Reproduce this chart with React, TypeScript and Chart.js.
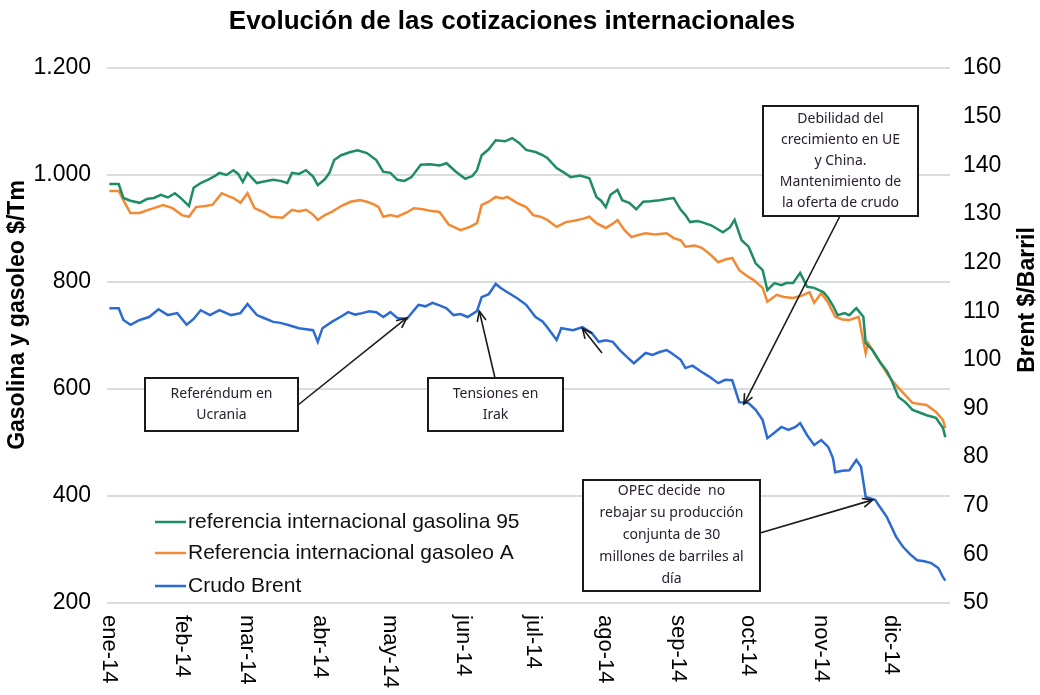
import React, { useEffect, useRef } from "react";
import { Chart, registerables } from "chart.js";

Chart.register(...registerables);

// ---- DATA (x = day of 2014, 0 = 1 Jan) ----
const monthLabels = ["ene-14", "feb-14", "mar-14", "abr-14", "may-14", "jun-14", "jul-14", "ago-14", "sep-14", "oct-14", "nov-14", "dic-14"];
const monthStartDays = [0, 31, 59, 90, 120, 151, 181, 212, 243, 273, 304, 334];

const leftTicks = [200, 400, 600, 800, 1000, 1200];
const rightTicks = [50, 60, 70, 80, 90, 100, 110, 120, 130, 140, 150, 160];

const seriesLabels = [
  "referencia internacional gasolina 95",
  "Referencia internacional gasoleo A",
  "Crudo Brent",
];

const gasolinaDays = [1, 5, 7, 10, 14, 17, 20, 23, 26, 29, 32, 35, 37, 40, 43, 46, 48, 51, 54, 56, 58, 60, 62, 64, 67, 71, 74, 77, 79, 82, 85, 88, 90, 93, 95, 97, 100, 104, 107, 111, 115, 118, 121, 124, 127, 130, 134, 138, 142, 145, 149, 153, 156, 158, 160, 163, 166, 170, 173, 176, 179, 183, 186, 188, 192, 195, 198, 202, 206, 209, 211, 213, 215, 218, 220, 223, 226, 229, 232, 236, 239, 242, 245, 247, 249, 252, 254, 258, 263, 266, 268, 271, 274, 277, 280, 282, 285, 288, 290, 293, 296, 299, 302, 304, 306, 308, 310, 312, 315, 317, 320, 323, 324, 327, 330, 333, 335, 338, 341, 344, 347, 350, 354, 357, 358];
const gasolinaValues = [983, 983, 957, 952, 948, 955, 957, 963, 958, 966, 955, 942, 976, 985, 991, 998, 1004, 1000, 1009, 1002, 987, 1004, 994, 985, 988, 991, 989, 985, 1004, 1002, 1009, 997, 981, 992, 1004, 1028, 1037, 1043, 1046, 1041, 1028, 1006, 1004, 991, 989, 996, 1019, 1020, 1018, 1022, 1006, 993, 998, 1009, 1037, 1048, 1065, 1063, 1069, 1060, 1047, 1043, 1037, 1032, 1013, 1005, 996, 999, 994, 959, 952, 940, 963, 972, 953, 948, 936, 950, 951, 953, 955, 957, 935, 925, 912, 914, 912, 906, 893, 902, 916, 878, 866, 835, 822, 785, 798, 794, 798, 798, 817, 791, 789, 785, 781, 770, 756, 738, 742, 738, 751, 735, 686, 672, 651, 634, 617, 585, 575, 561, 556, 551, 546, 527, 510];

const gasoleoDays = [1, 5, 7, 10, 14, 17, 20, 24, 28, 32, 35, 38, 42, 45, 49, 52, 54, 57, 60, 63, 67, 70, 75, 79, 82, 85, 88, 90, 93, 96, 100, 104, 108, 111, 114, 116, 118, 121, 124, 128, 131, 135, 138, 142, 146, 151, 155, 158, 160, 163, 166, 169, 171, 175, 179, 182, 185, 188, 192, 196, 200, 203, 206, 209, 213, 216, 218, 221, 224, 227, 230, 234, 239, 242, 245, 247, 251, 254, 258, 261, 264, 267, 270, 273, 276, 280, 282, 286, 289, 293, 297, 300, 302, 305, 308, 311, 314, 317, 321, 324, 325, 328, 330, 333, 335, 338, 341, 344, 347, 350, 354, 357, 358];
const gasoleoValues = [970, 970, 953, 929, 929, 934, 938, 944, 938, 925, 922, 940, 942, 944, 966, 960, 957, 948, 966, 938, 930, 922, 920, 935, 932, 935, 926, 916, 925, 931, 942, 950, 953, 950, 945, 940, 922, 925, 922, 930, 938, 936, 933, 931, 907, 897, 903, 910, 944, 950, 959, 956, 959, 948, 940, 925, 922, 916, 903, 912, 915, 918, 922, 910, 901, 909, 916, 897, 884, 888, 891, 889, 891, 882, 878, 866, 868, 864, 850, 837, 842, 845, 822, 812, 804, 789, 763, 776, 772, 770, 775, 781, 761, 779, 761, 735, 730, 729, 735, 667, 686, 665, 651, 630, 617, 602, 588, 574, 572, 570, 557, 542, 527];

const brentDays = [1, 5, 7, 10, 14, 18, 22, 26, 30, 34, 37, 40, 44, 48, 53, 57, 60, 64, 67, 71, 74, 77, 82, 88, 90, 92, 96, 100, 103, 106, 109, 112, 115, 118, 121, 124, 128, 133, 136, 139, 142, 145, 148, 151, 154, 158, 160, 163, 166, 168, 171, 175, 179, 183, 186, 188, 192, 194, 199, 203, 207, 210, 213, 216, 219, 222, 225, 230, 233, 236, 239, 241, 245, 247, 250, 254, 257, 261, 264, 267, 270, 274, 277, 280, 282, 285, 288, 291, 294, 296, 299, 302, 305, 308, 310, 311, 314, 317, 320, 322, 324, 328, 330, 333, 337, 340, 343, 346, 349, 352, 355, 357, 358];
const brentValues = [110.6, 110.6, 108.2, 107.2, 108.2, 108.8, 110.4, 109.2, 109.6, 107.2, 108.4, 110.2, 109.2, 110.2, 109.2, 109.6, 111.5, 109.2, 108.6, 107.8, 107.6, 107.2, 106.5, 106.1, 103.7, 106.5, 107.8, 108.9, 109.8, 109.3, 109.6, 110.0, 109.8, 108.8, 109.8, 108.6, 108.4, 111.3, 111.0, 111.7, 111.2, 110.6, 109.2, 109.4, 108.8, 110.0, 112.9, 113.5, 115.6, 114.8, 113.9, 112.7, 111.3, 108.8, 107.9, 106.7, 104.1, 106.5, 106.1, 106.7, 105.5, 103.7, 104.0, 103.7, 102.0, 100.6, 99.3, 101.4, 101.0, 101.6, 102.0, 101.4, 100.0, 98.3, 98.8, 97.5, 96.6, 95.2, 95.9, 95.8, 91.3, 91.1, 89.7, 87.6, 83.9, 85.0, 86.2, 85.6, 86.2, 87.0, 84.5, 82.5, 83.5, 82.1, 79.8, 76.9, 77.2, 77.3, 79.4, 78.0, 71.8, 71.2, 69.8, 67.7, 63.6, 61.5, 60.0, 58.8, 58.6, 58.2, 57.2, 55.3, 54.6];

const chartTitle = "Evolución de las cotizaciones internacionales";
const leftAxisTitle = "Gasolina y gasoleo $/Tm";
const rightAxisTitle = "Brent $/Barril";

// annotation texts and the Brent points (day, $/barril) their arrows point to
const noteReferendum = ["Referéndum en", "Ucrania"];
const noteIrak = ["Tensiones en", "Irak"];
const noteDebilidad = ["Debilidad del", "crecimiento en UE", "y China.", "Mantenimiento de", "la oferta de crudo"];
const noteOpec = ["OPEC decide  no", "rebajar su producción", "conjunta de 30", "millones de barriles al", "día"];
const arrowTargetDays = [128, 159, 203, 272, 327];
const arrowTargetBrent = [108.6, 110.0, 106.5, 90.9, 71.2];

const COLORS = ["#1e8c64", "#f38a33", "#2c6bd3"];
const FONT = '"Liberation Sans", Arial, sans-serif';
const NOTE_FONT = '"Noto Sans", "Liberation Sans", sans-serif';

function arrow(ctx: CanvasRenderingContext2D, x1: number, y1: number, x2: number, y2: number) {
  ctx.beginPath();
  ctx.moveTo(x1, y1);
  ctx.lineTo(x2, y2);
  ctx.stroke();
  const a = Math.atan2(y2 - y1, x2 - x1);
  const L = 11;
  const s = 0.42;
  ctx.beginPath();
  ctx.moveTo(x2 - L * Math.cos(a - s), y2 - L * Math.sin(a - s));
  ctx.lineTo(x2, y2);
  ctx.lineTo(x2 - L * Math.cos(a + s), y2 - L * Math.sin(a + s));
  ctx.stroke();
}

function noteBox(ctx: CanvasRenderingContext2D, x: number, y: number, w: number, h: number, lines: string[], lineH: number) {
  ctx.fillStyle = "#ffffff";
  ctx.fillRect(x, y, w, h);
  ctx.strokeStyle = "#1a1a1a";
  ctx.lineWidth = 2;
  ctx.strokeRect(x, y, w, h);
  ctx.fillStyle = "#2a2030";
  ctx.font = `14px ${NOTE_FONT}`;
  ctx.textAlign = "center";
  ctx.textBaseline = "middle";
  const total = lineH * lines.length;
  const top = y + (h - total) / 2 + lineH / 2;
  lines.forEach((t, i) => ctx.fillText(t, x + w / 2, top + i * lineH));
}

const overlayPlugin = {
  id: "overlay",
  afterDraw(chart: any) {
    const ctx: CanvasRenderingContext2D = chart.ctx;
    const xs = chart.scales.x;
    const yr = chart.scales.yR;
    const area = chart.chartArea;
    ctx.save();

    // title
    ctx.fillStyle = "#000";
    ctx.font = `bold 26px ${FONT}`;
    ctx.textAlign = "center";
    ctx.textBaseline = "middle";
    ctx.fillText(chartTitle, 512, 22);

    // axis titles (both read bottom to top)
    ctx.font = `bold 23px ${FONT}`;
    ctx.save();
    ctx.translate(18, 315);
    ctx.rotate(-Math.PI / 2);
    ctx.fillText(leftAxisTitle, 0, 0);
    ctx.restore();
    ctx.save();
    ctx.translate(1028, 300);
    ctx.rotate(-Math.PI / 2);
    ctx.fillText(rightAxisTitle, 0, 0);
    ctx.restore();

    // month labels, rotated clockwise
    ctx.font = `22px ${FONT}`;
    ctx.textAlign = "left";
    ctx.textBaseline = "middle";
    monthStartDays.forEach((d, i) => {
      const px = xs.getPixelForValue(d);
      ctx.save();
      ctx.translate(px + 2, area.bottom + 12);
      ctx.rotate(Math.PI / 2);
      ctx.fillText(monthLabels[i], 0, 0);
      ctx.restore();
    });

    // legend inside plot
    const rowsY = [522, 553, 586];
    ctx.font = `21px ${FONT}`;
    seriesLabels.forEach((lab, i) => {
      ctx.strokeStyle = COLORS[i];
      ctx.lineWidth = 2.5;
      ctx.beginPath();
      ctx.moveTo(155, rowsY[i]);
      ctx.lineTo(186, rowsY[i]);
      ctx.stroke();
      ctx.fillStyle = "#111";
      ctx.fillText(lab, 188, rowsY[i]);
    });

    // annotation boxes
    noteBox(ctx, 145, 378, 153, 53, noteReferendum, 21);
    noteBox(ctx, 428, 378, 135, 53, noteIrak, 21);
    noteBox(ctx, 763, 106, 155, 110, noteDebilidad, 21);
    noteBox(ctx, 583, 480, 177, 111, noteOpec, 22);

    // arrows
    ctx.strokeStyle = "#1a1a1a";
    ctx.lineWidth = 1.6;
    const tip = (i: number) => [xs.getPixelForValue(arrowTargetDays[i]), yr.getPixelForValue(arrowTargetBrent[i])];
    const tails = [[298, 405], [495, 378], [602, 353], [840, 216], [760, 533]];
    tails.forEach((t, i) => {
      const [tx, ty] = tip(i);
      arrow(ctx, t[0], t[1], tx, ty);
    });

    ctx.restore();
  },
};

const fmtThousands = (v: number) => {
  const s = String(Math.round(v));
  return s.length > 3 ? s.slice(0, s.length - 3) + "." + s.slice(-3) : s;
};

export default function App() {
  const ref = useRef<HTMLCanvasElement | null>(null);

  useEffect(() => {
    if (!ref.current) return;
    const toXY = (xs: number[], ys: number[]) => xs.map((x, i) => ({ x, y: ys[i] }));
    const chart = new Chart(ref.current, {
      type: "line",
      data: {
        datasets: [
          { label: seriesLabels[0], data: toXY(gasolinaDays, gasolinaValues), borderColor: COLORS[0], yAxisID: "y" },
          { label: seriesLabels[1], data: toXY(gasoleoDays, gasoleoValues), borderColor: COLORS[1], yAxisID: "y" },
          { label: seriesLabels[2], data: toXY(brentDays, brentValues), borderColor: COLORS[2], yAxisID: "yR" },
        ].map((d) => ({ ...d, borderWidth: 2.5, pointRadius: 0, tension: 0, fill: false })),
      },
      options: {
        animation: false,
        responsive: true,
        maintainAspectRatio: false,
        layout: { padding: { top: 68, left: 0, right: 0, bottom: 0 } },
        plugins: { legend: { display: false }, title: { display: false }, tooltip: { enabled: false } },
        scales: {
          x: {
            type: "linear",
            min: 0,
            max: 360,
            grid: { display: false },
            border: { display: false },
            ticks: { display: false },
            afterBuildTicks: (s: any) => {
              s.ticks = monthStartDays.map((v) => ({ value: v }));
            },
            afterFit: (s: any) => {
              s.height = 92;
            },
          },
          y: {
            position: "left",
            min: 200,
            max: 1200,
            afterBuildTicks: (s: any) => {
              s.ticks = leftTicks.map((v) => ({ value: v }));
            },
            ticks: {
              color: "#000",
              font: { family: FONT, size: 23 },
              padding: 16,
              callback: (v: any) => fmtThousands(Number(v)),
            },
            grid: { color: "#d8dcdf", lineWidth: 2, drawTicks: false },
            border: { display: false },
            afterFit: (s: any) => {
              s.width = 107;
            },
          },
          yR: {
            position: "right",
            min: 50,
            max: 160,
            afterBuildTicks: (s: any) => {
              s.ticks = rightTicks.map((v) => ({ value: v }));
            },
            ticks: { color: "#000", font: { family: FONT, size: 23 }, padding: 13 },
            grid: { display: false, drawTicks: false },
            border: { display: false },
            afterFit: (s: any) => {
              s.width = 90;
            },
          },
        },
      },
      plugins: [overlayPlugin],
    });
    return () => chart.destroy();
  }, []);

  return (
    <div style={{ position: "fixed", left: 0, top: 0, width: 1040, height: 695, background: "#fff" }}>
      <canvas ref={ref} />
    </div>
  );
}
